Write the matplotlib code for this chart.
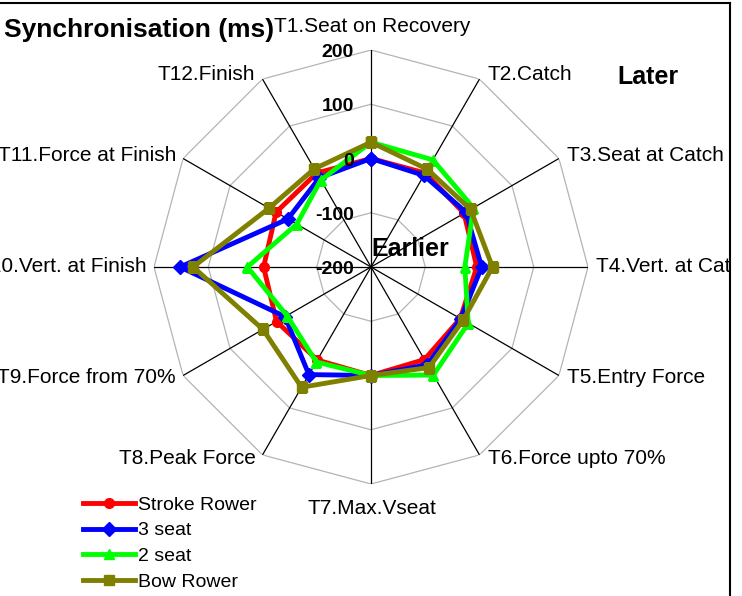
import numpy as np
import matplotlib
matplotlib.use("Agg")
import matplotlib.pyplot as plt
from matplotlib.lines import Line2D
from matplotlib.patches import Rectangle

plt.rcParams['font.family'] = ['Liberation Sans', 'DejaVu Sans']

# Data (ms)
categories = ['T1.Seat on Recovery', 'T2.Catch', 'T3.Seat at Catch', 'T4.Vert. at Catch',
              'T5.Entry Force', 'T6.Force upto 70%', 'T7.Max.Vseat', 'T8.Peak Force',
              'T9.Force from 70%', 'T10.Vert. at Finish', 'T11.Force at Finish', 'T12.Finish']
stroke_rower = [0, 0, -2, -5, -10, -3, 0, -2, 1, -2, 2, 0]
seat_3 = [0, -5, 2, 4, -9, 8, 0, 29, -17, 152, -23, -10]
seat_2 = [30, 28, 18, -27, 7, 30, 0, 2, -21, 28, -42, -15]
bow_rower = [30, 8, 12, 24, -4, 14, 0, 56, 30, 128, 17, 9]
series_names = ['Stroke Rower', '3 seat', '2 seat', 'Bow Rower']
levels = [-200, -100, 0, 100, 200]

W, H = 742, 596
fig = plt.figure(figsize=(W / 100, H / 100), dpi=100)
fig.patch.set_facecolor('white')

cx, cy, R = 371, 267, 217
ax = fig.add_axes([(cx - R) / W, (H - cy - R) / H, 2 * R / W, 2 * R / H], projection='polar')
ax.set_theta_zero_location('N')
ax.set_theta_direction(-1)
ax.set_ylim(-200, 200)
ax.grid(False)
ax.spines['polar'].set_visible(False)
ax.set_xticks([])
ax.set_yticks([])

n = len(categories)
angles = np.arange(n) * 2 * np.pi / n
closed = np.append(angles, angles[0])

# polygon grid
for lv in levels[1:]:
    ax.plot(closed, [lv] * (n + 1), color='#b4b4b4', lw=0.9, zorder=1)
# spokes
for a in angles:
    ax.plot([a, a], [-200, 200], color='black', lw=0.9, zorder=1.5)

# series
styles = [('#ff0000', 'o'), ('#0000ff', 'D'), ('#00ff00', '^'), ('#808000', 's')]
for i, (vals, name, (c, m)) in enumerate(zip([stroke_rower, seat_3, seat_2, bow_rower],
                                            series_names, styles)):
    ax.plot(closed, vals + vals[:1], color=c, lw=3.5, marker=m, ms=7, mec=c, mfc=c,
            label=name, zorder=3 + i)

# radial tick labels
for lv in levels:
    ax.annotate(str(lv), xy=(0, lv), xytext=(-17, -7), textcoords='offset pixels',
                ha='right', va='baseline', fontsize=14, fontweight='bold', zorder=10,
                annotation_clip=False)

# category labels
for i, (a, lab) in enumerate(zip(angles, categories)):
    if i == 0:
        kw = dict(xytext=(1, 18), ha='center', va='baseline')
    elif i == 6:
        kw = dict(xytext=(1, -30), ha='center', va='baseline')
    elif i < 6:
        kw = dict(xytext=(8, 5 * np.cos(a) - 5), ha='left', va='baseline')
    else:
        kw = dict(xytext=(-7, 5 * np.cos(a) - 5), ha='right', va='baseline')
    ax.annotate(lab, xy=(a, 200), textcoords='offset pixels', fontsize=15,
                annotation_clip=False, **kw)

fig.text(4 / W, 1 - 37 / H, 'Synchronisation (ms)', fontsize=19, fontweight='bold',
         ha='left', va='baseline')
fig.text(371 / W, 1 - 256 / H, 'Earlier', fontsize=18, fontweight='bold',
         ha='left', va='baseline', zorder=20)
fig.text(617 / W, 1 - 84 / H, 'Later', fontsize=18, fontweight='bold',
         ha='left', va='baseline')

fig.legend(loc='upper left', bbox_to_anchor=(83 / W, 1 - 496 / H), frameon=False,
           fontsize=14, handlelength=2.68, handletextpad=0.15, labelspacing=0.42,
           borderpad=0, borderaxespad=0)

# chart border (right side clips the overflowing label)
fig.add_artist(Rectangle((731 / W, 0), 11 / W, 1, transform=fig.transFigure,
                         facecolor='white', edgecolor='none', zorder=50))
fig.add_artist(Line2D([0, 730 / W], [1 - 3 / H, 1 - 3 / H], transform=fig.transFigure,
                      color='black', lw=1.5, zorder=51))
fig.add_artist(Line2D([730 / W, 730 / W], [0, 1 - 3 / H], transform=fig.transFigure,
                      color='black', lw=1.5, zorder=51))

fig.savefig('out.png', dpi=100)
